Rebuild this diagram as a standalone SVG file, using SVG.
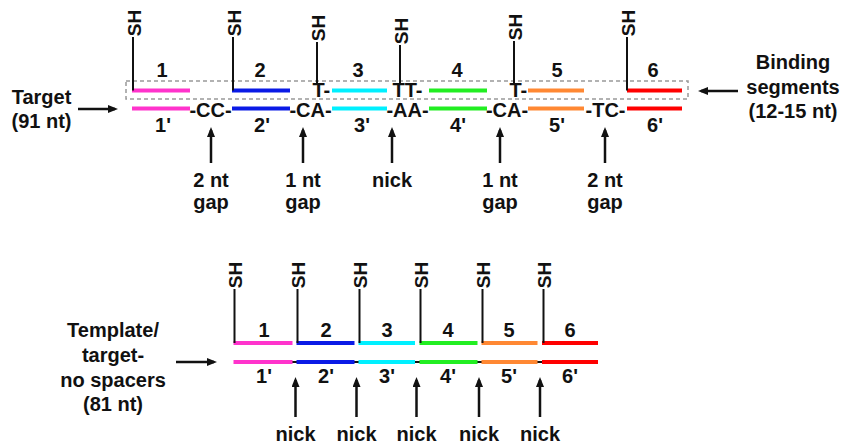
<svg xmlns="http://www.w3.org/2000/svg" width="841" height="444" viewBox="0 0 841 444">
<defs>
<style>
text { font-family: "Liberation Sans", Arial, sans-serif; font-weight: bold; fill: #111; }
.t { font-size: 20px; text-anchor: middle; }
.s { font-size: 20px; text-anchor: start; }
.sh { font-size: 19px; text-anchor: middle; }
.bar { stroke-width: 4; fill: none; }
.ln { stroke: #111; stroke-width: 2; fill: none; }
.arr { stroke: #111; stroke-width: 2.5; fill: none; marker-end: url(#ah); }
.box { fill: none; stroke: #999; stroke-width: 1.5; stroke-dasharray: 4 3; }
.pk { stroke: #FF33CC; } .bl { stroke: #0A1AE6; } .cy { stroke: #00F0FF; }
.gr { stroke: #22EE22; } .or { stroke: #FF8833; } .rd { stroke: #FF0000; }
</style>
<marker id="ah" viewBox="0 0 10 8" refX="7" refY="4" markerWidth="10" markerHeight="8" markerUnits="userSpaceOnUse" orient="auto">
<path d="M0,0 L10,4 L0,8 z" fill="#111"/>
</marker>
</defs>
<rect width="841" height="444" fill="#fff"/>

<!-- ===== Top panel ===== -->
<g id="binding-box"><rect class="box" x="126" y="81" width="562" height="18"/></g>

<g id="top-labels">
<text class="t" x="41.5" y="104">Target</text>
<text class="t" x="41.5" y="128">(91 nt)</text>
<text class="t" x="793" y="69">Binding</text>
<text class="t" x="793" y="94">segments</text>
<text class="t" x="793" y="118">(12-15 nt)</text>
</g>

<g id="top-strand">
<line class="bar pk" x1="132" y1="90.5" x2="190" y2="90.5"/>
<line class="bar bl" x1="232" y1="90.5" x2="290" y2="90.5"/>
<line class="bar cy" x1="332" y1="90.5" x2="387" y2="90.5"/>
<line class="bar gr" x1="429" y1="90.5" x2="487" y2="90.5"/>
<line class="bar or" x1="528" y1="90.5" x2="584" y2="90.5"/>
<line class="bar rd" x1="627" y1="90.5" x2="682" y2="90.5"/>
<text class="s" x="312.5" y="97">T-</text>
<text class="s" x="392.5" y="97">TT-</text>
<text class="s" x="509.5" y="97">T-</text>
<text class="t" x="162" y="77">1</text>
<text class="t" x="260" y="77">2</text>
<text class="t" x="358" y="77">3</text>
<text class="t" x="457" y="77">4</text>
<text class="t" x="557" y="77">5</text>
<text class="t" x="653" y="77">6</text>
</g>

<g id="top-thiols">
<text class="sh" transform="translate(134,23) rotate(-90)" dy="0.36em">SH</text>
<text class="sh" transform="translate(234,23) rotate(-90)" dy="0.36em">SH</text>
<text class="sh" transform="translate(318,28) rotate(-90)" dy="0.36em">SH</text>
<text class="sh" transform="translate(401,31) rotate(-90)" dy="0.36em">SH</text>
<text class="sh" transform="translate(515,27) rotate(-90)" dy="0.36em">SH</text>
<text class="sh" transform="translate(628,23) rotate(-90)" dy="0.36em">SH</text>
</g>

<g id="target-strand">
<line class="bar pk" x1="132" y1="108.5" x2="190" y2="108.5"/>
<line class="bar bl" x1="232" y1="108.5" x2="290" y2="108.5"/>
<line class="bar cy" x1="332" y1="108.5" x2="387" y2="108.5"/>
<line class="bar gr" x1="429" y1="108.5" x2="487" y2="108.5"/>
<line class="bar or" x1="528" y1="108.5" x2="584" y2="108.5"/>
<line class="bar rd" x1="627" y1="108.5" x2="682" y2="108.5"/>
<text class="t" x="210.5" y="117">-CC-</text>
<text class="t" x="310.5" y="117">-CA-</text>
<text class="t" x="407.5" y="117">-AA-</text>
<text class="t" x="507" y="117">-CA-</text>
<text class="t" x="605.5" y="117">-TC-</text>
<text class="t" x="163" y="132">1'</text>
<text class="t" x="262" y="132">2'</text>
<text class="t" x="362" y="132">3'</text>
<text class="t" x="458" y="132">4'</text>
<text class="t" x="557" y="132">5'</text>
<text class="t" x="655" y="132">6'</text>
</g>

<g id="top-gap-labels">
<text class="t" x="211" y="187">2 nt</text>
<text class="t" x="211" y="209">gap</text>
<text class="t" x="303" y="187">1 nt</text>
<text class="t" x="303" y="209">gap</text>
<text class="t" x="392" y="187">nick</text>
<text class="t" x="500" y="187">1 nt</text>
<text class="t" x="500" y="209">gap</text>
<text class="t" x="605" y="187">2 nt</text>
<text class="t" x="605" y="209">gap</text>
</g>

<!-- ===== Bottom panel ===== -->
<g id="bottom-labels">
<text class="t" x="113" y="337">Template/</text>
<text class="t" x="113" y="362">target-</text>
<text class="t" x="113" y="387">no spacers</text>
<text class="t" x="113" y="411">(81 nt)</text>
</g>

<g id="bottom-thiols">
<text class="sh" transform="translate(235.5,275) rotate(-90)" dy="0.36em">SH</text>
<text class="sh" transform="translate(298.5,275) rotate(-90)" dy="0.36em">SH</text>
<text class="sh" transform="translate(360.5,275) rotate(-90)" dy="0.36em">SH</text>
<text class="sh" transform="translate(421.5,275) rotate(-90)" dy="0.36em">SH</text>
<text class="sh" transform="translate(483.5,275) rotate(-90)" dy="0.36em">SH</text>
<text class="sh" transform="translate(544.5,275) rotate(-90)" dy="0.36em">SH</text>
</g>

<g id="bottom-top-strand">
<line class="bar pk" x1="233.5" y1="343" x2="292.5" y2="343"/>
<line class="bar bl" x1="296.5" y1="343" x2="354.5" y2="343"/>
<line class="bar cy" x1="358.5" y1="343" x2="415" y2="343"/>
<line class="bar gr" x1="419.5" y1="343" x2="477.5" y2="343"/>
<line class="bar or" x1="481.5" y1="343" x2="537.5" y2="343"/>
<line class="bar rd" x1="542" y1="343" x2="598" y2="343"/>
<text class="t" x="264" y="337">1</text>
<text class="t" x="326" y="337">2</text>
<text class="t" x="387" y="337">3</text>
<text class="t" x="448" y="337">4</text>
<text class="t" x="509" y="337">5</text>
<text class="t" x="570" y="337">6</text>
</g>

<g id="template-strand">
<line class="ln" x1="234" y1="362" x2="598" y2="362"/>
<line class="bar pk" x1="233.5" y1="362" x2="292.5" y2="362"/>
<line class="bar bl" x1="296.5" y1="362" x2="354.5" y2="362"/>
<line class="bar cy" x1="358.5" y1="362" x2="415" y2="362"/>
<line class="bar gr" x1="419.5" y1="362" x2="477.5" y2="362"/>
<line class="bar or" x1="481.5" y1="362" x2="537.5" y2="362"/>
<line class="bar rd" x1="542" y1="362" x2="598" y2="362"/>
<text class="t" x="264" y="383">1'</text>
<text class="t" x="326" y="383">2'</text>
<text class="t" x="387" y="383">3'</text>
<text class="t" x="448" y="383">4'</text>
<text class="t" x="509" y="383">5'</text>
<text class="t" x="570" y="383">6'</text>
</g>

<g id="bottom-nick-labels">
<text class="t" x="295.5" y="441">nick</text>
<text class="t" x="356.5" y="441">nick</text>
<text class="t" x="416.5" y="441">nick</text>
<text class="t" x="479" y="441">nick</text>
<text class="t" x="540" y="441">nick</text>
</g>

<!-- ===== Connectors ===== -->
<g id="connectors">
<path class="ln" d="M133,37 V90.5"/>
<path class="ln" d="M233,37 V90.5"/>
<path class="ln" d="M317,42 V84"/>
<path class="ln" d="M400,45 V84"/>
<path class="ln" d="M514,41 V84"/>
<path class="ln" d="M627,37 V90.5"/>
<path class="ln" d="M234.5,289 V343"/>
<path class="ln" d="M297.5,289 V343"/>
<path class="ln" d="M359.5,289 V343"/>
<path class="ln" d="M420.5,289 V343"/>
<path class="ln" d="M482.5,289 V343"/>
<path class="ln" d="M543.5,289 V343"/>
<path class="arr" d="M78,109 H115"/>
<path class="arr" d="M738,91 H701"/>
<path class="arr" d="M211,163 V130"/>
<path class="arr" d="M303,163 V130"/>
<path class="arr" d="M392,163 V130"/>
<path class="arr" d="M500,163 V130"/>
<path class="arr" d="M605,163 V130"/>
<path class="arr" d="M176,362 H214"/>
<path class="arr" d="M295.5,417 V380"/>
<path class="arr" d="M356.5,417 V380"/>
<path class="arr" d="M416.5,417 V380"/>
<path class="arr" d="M479,417 V380"/>
<path class="arr" d="M540,417 V380"/>
</g>
</svg>
